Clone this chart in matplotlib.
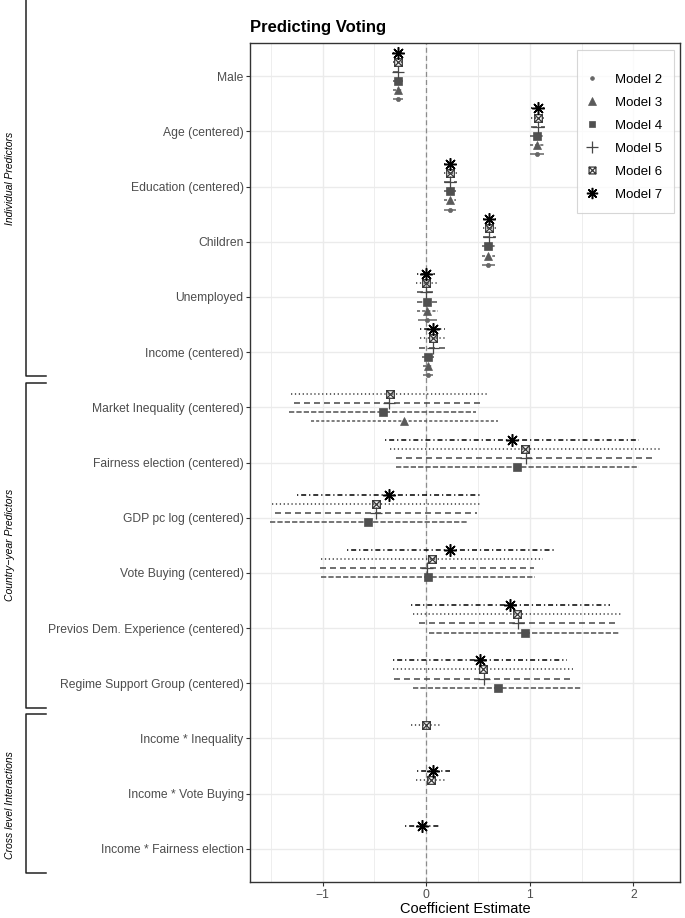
import matplotlib

matplotlib.use("Agg")
import matplotlib.pyplot as plt  # noqa: E402
import matplotlib.transforms as mtransforms  # noqa: E402
from matplotlib.lines import Line2D  # noqa: E402
from matplotlib.path import Path  # noqa: E402

plt.rcParams["font.family"] = ["Liberation Sans", "DejaVu Sans"]
plt.rcParams["lines.scale_dashes"] = False

# Predictors, top to bottom.
categories = [
    "Male",
    "Age (centered)",
    "Education (centered)",
    "Children",
    "Unemployed",
    "Income (centered)",
    "Market Inequality (centered)",
    "Fairness election (centered)",
    "GDP pc log (centered)",
    "Vote Buying (centered)",
    "Previos Dem. Experience (centered)",
    "Regime Support Group (centered)",
    "Income * Inequality",
    "Income * Vote Buying",
    "Income * Fairness election",
]

models = ["Model 2", "Model 3", "Model 4", "Model 5", "Model 6", "Model 7"]

# Estimates and half-width of the 95% intervals (None = not in model).
m2_est = [-0.27, 1.07, 0.23, 0.60, 0.01, 0.015, None, None, None, None, None, None, None, None, None]
m2_ci = [0.05, 0.07, 0.06, 0.06, 0.09, 0.05, None, None, None, None, None, None, None, None, None]

m3_est = [-0.27, 1.07, 0.23, 0.60, 0.01, 0.015, -0.21, None, None, None, None, None, None, None, None]
m3_ci = [0.05, 0.07, 0.06, 0.06, 0.10, 0.05, 0.90, None, None, None, None, None, None, None, None]

m4_est = [-0.27, 1.07, 0.23, 0.60, 0.01, 0.02, -0.42, 0.88, -0.56, 0.02, 0.95, 0.69, None, None, None]
m4_ci = [0.05, 0.07, 0.06, 0.06, 0.10, 0.06, 0.90, 1.17, 0.95, 1.03, 0.925, 0.815, None, None, None]

m5_est = [-0.27, 1.08, 0.235, 0.61, 0.0, 0.065, -0.36, 0.96, -0.485, 0.01, 0.89, 0.555, None, None, None]
m5_ci = [0.05, 0.07, 0.06, 0.06, 0.09, 0.13, 0.915, 1.25, 0.975, 1.03, 0.96, 0.865, None, None, None]

m6_est = [-0.27, 1.08, 0.235, 0.61, 0.0, 0.07, -0.35, 0.955, -0.485, 0.06, 0.875, 0.55, -0.005, 0.045, None]
m6_ci = [0.05, 0.07, 0.06, 0.06, 0.10, 0.13, 0.95, 1.305, 1.005, 1.07, 1.005, 0.87, 0.145, 0.145, None]

m7_est = [-0.27, 1.08, 0.23, 0.61, 0.0, 0.065, None, 0.825, -0.355, 0.235, 0.81, 0.52, None, 0.07, -0.04]
m7_ci = [0.05, 0.07, 0.06, 0.06, 0.09, 0.12, None, 1.225, 0.895, 0.995, 0.96, 0.84, None, 0.16, 0.16]

x_ticks = [-1, 0, 1, 2]

groups = ["Individual Predictors", "Country\u2212year Predictors", "Cross level Interactions"]

estimates = [m2_est, m3_est, m4_est, m5_est, m6_est, m7_est]
intervals = [m2_ci, m3_ci, m4_ci, m5_ci, m6_ci, m7_ci]

# Square with a cross inside (ggplot shape 7).
square_x = Path(
    [(-1, -1), (1, -1), (1, 1), (-1, 1), (-1, -1), (-1, -1), (1, 1), (-1, 1), (1, -1)],
    [Path.MOVETO, Path.LINETO, Path.LINETO, Path.LINETO, Path.CLOSEPOLY,
     Path.MOVETO, Path.LINETO, Path.MOVETO, Path.LINETO],
)

colors = ["#666666", "#5a5a5a", "#505050", "#464646", "#383838", "#000000"]
markers = ["o", "^", "s", "+", square_x, (8, 2, 0)]
marker_sizes = [3.0, 6.0, 5.5, 9.0, 5.5, 9.0]
marker_edge = [0.5, 0.5, 0.5, 0.9, 0.9, 1.1]
# ggplot default linetypes: solid, 22, 42, 44, 13, 1343 (in points here)
linestyles = [
    "solid",
    (0, (2.2, 1.5)),
    (0, (3.8, 1.5)),
    (0, (4.3, 2.9)),
    (0, (0.9, 1.9)),
    (0, (0.9, 2.1, 3.6, 2.1)),
]

fig = plt.figure(figsize=(6.85, 9.18), dpi=100)
ax = fig.add_axes([250 / 685, 36 / 918, 430 / 685, 839 / 918])

n_cat = len(categories)
ypos = [n_cat - i for i in range(n_cat)]
dodge = 1.0 / len(models)

for k, (est, ci) in enumerate(zip(estimates, intervals)):
    offset = (k - (len(models) - 1) / 2) * dodge
    filled = markers[k] in ("o", "^", "s")
    for y, e, c in zip(ypos, est, ci):
        if e is None:
            continue
        yy = y + offset
        ax.plot(
            [e - c, e + c],
            [yy, yy],
            color=colors[k],
            linewidth=1.1,
            linestyle=linestyles[k],
            solid_capstyle="butt",
            dash_capstyle="butt",
            zorder=3,
        )
        ax.plot(
            e,
            yy,
            marker=markers[k],
            markersize=marker_sizes[k],
            color=colors[k],
            markerfacecolor=colors[k] if filled else "none",
            markeredgewidth=marker_edge[k],
            linestyle="none",
            zorder=4,
        )

ax.axvline(0, color="#8c8c8c", linestyle=(0, (3.6, 2.2)), linewidth=0.9, zorder=2)

ax.set_xlim(-1.70, 2.45)
ax.set_ylim(0.4, n_cat + 0.6)
ax.set_xticks(x_ticks)
ax.set_xticklabels(["\u22121", "0", "1", "2"])
ax.set_xticks([-1.5, -0.5, 0.5, 1.5], minor=True)
ax.set_yticks(ypos)
ax.set_yticklabels(categories)

ax.grid(True, which="major", color="#ebebeb", linewidth=1.0, zorder=0)
ax.grid(True, which="minor", axis="x", color="#ebebeb", linewidth=0.6, zorder=0)
ax.set_axisbelow(True)
ax.tick_params(axis="both", which="major", colors="#333333", labelcolor="#4d4d4d",
               labelsize=8.7, length=3, width=0.8, pad=1.5)
ax.tick_params(axis="x", which="major", pad=2)
ax.tick_params(axis="x", which="minor", length=0)
for spine in ax.spines.values():
    spine.set_color("#333333")
    spine.set_linewidth(1.0)

ax.set_xlabel("Coefficient Estimate", fontsize=10.5, labelpad=1)
ax.set_title("Predicting Voting", loc="left", fontsize=12, fontweight="bold", pad=8)

handles = [
    Line2D([], [], marker=markers[k], markersize=marker_sizes[k] * 0.9, color=colors[k],
           markerfacecolor=colors[k] if markers[k] in ("o", "^", "s") else "none",
           markeredgewidth=marker_edge[k], linestyle="none")
    for k in range(len(models))
]
leg = ax.legend(
    handles,
    models,
    loc="upper right",
    bbox_to_anchor=(0.986, 0.992),
    borderaxespad=0,
    fontsize=9.5,
    title=" ",
    title_fontsize=1,
    frameon=True,
    fancybox=False,
    edgecolor="#cccccc",
    labelspacing=0.82,
    borderpad=0.9,
    handlelength=0.55,
    handletextpad=1.45,
)
leg.get_frame().set_linewidth(0.8)

# Group brackets on the left (x in figure units, y in data units).
trans = mtransforms.blended_transform_factory(fig.transFigure, ax.transData)
bracket_spans = [(16.5, 9.57), (9.435, 3.55), (3.44, 0.56)]
label_centres = [13.14, 6.50, 1.80]
x_bar = 25.5 / 685
x_end = 46 / 685
for (top, bottom), mid, label in zip(bracket_spans, label_centres, groups):
    if top < n_cat + 1:
        xs = [x_end, x_bar, x_bar, x_end]
        ys = [top, top, bottom, bottom]
    else:
        xs = [x_bar, x_bar, x_end]
        ys = [top, bottom, bottom]
    ax.plot(xs, ys, color="#222222", linewidth=1.1, transform=trans, clip_on=False)
    ax.text(10 / 685, mid, label, transform=trans, rotation=90, fontsize=7.5,
            fontstyle="italic", ha="center", va="center", color="black")

fig.savefig("out.png", dpi=100)
